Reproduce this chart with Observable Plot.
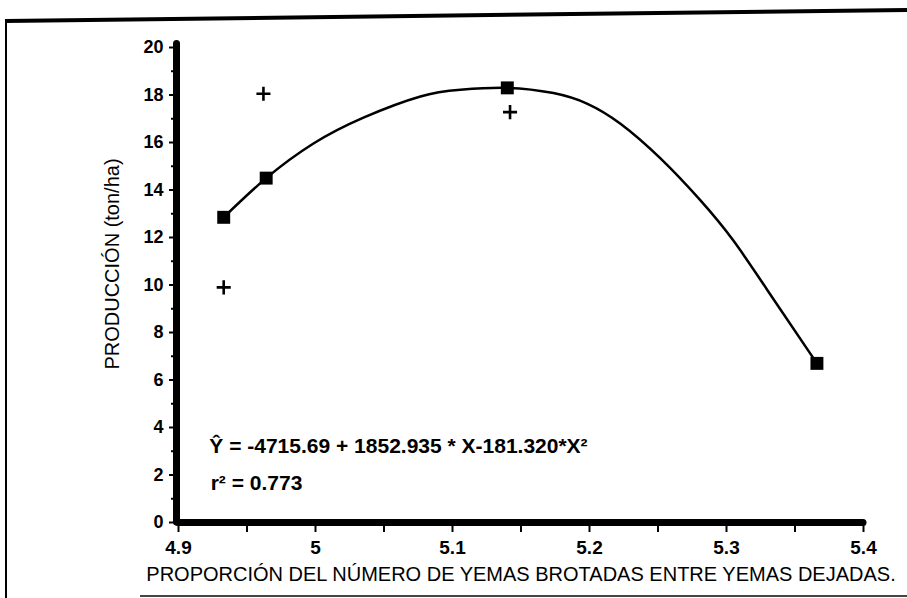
<!DOCTYPE html>
<html>
<head>
<meta charset="utf-8">
<script src="https://cdn.jsdelivr.net/npm/d3@7"></script>
<script src="https://cdn.jsdelivr.net/npm/@observablehq/plot@0.6"></script>
<style>
  body { margin: 0; background: #fff; }
  #wrap { position: relative; width: 907px; height: 598px; overflow: hidden; background: #fff; }
  #wrap svg { position: absolute; left: 0; top: 0; }
  .topline { position: absolute; left: 5px; top: 19px; width: 905px; height: 4px; background: #000; transform: rotate(-0.7deg); transform-origin: 0 50%; }
  .leftline { position: absolute; left: 5px; top: 20px; width: 2px; height: 578px; background: #000; }
  .bottomline { position: absolute; left: 140px; top: 595px; width: 767px; height: 2px; background: #444; }
</style>
</head>
<body>
<div id="wrap">
  <div class="topline"></div>
  <div class="leftline"></div>
  <div class="bottomline"></div>
</div>
<script>
// Fitted (predicted) values shown as squares
const squareX = [4.933, 4.964, 5.140, 5.366];
const squareY = [12.85, 14.5, 18.3, 6.7];
// Observed values shown as plus signs
const plusX = [4.933, 4.962, 5.142];
const plusY = [9.9, 18.05, 17.28];
// Regression curve
const curveX = [4.933, 4.964, 4.9985, 5.035, 5.0766, 5.1058, 5.140, 5.1737, 5.1985, 5.2226, 5.2518, 5.281, 5.305, 5.330, 5.366];
const curveY = [12.85, 14.5, 15.96, 17.05, 17.94, 18.22, 18.30, 18.08, 17.63, 16.79, 15.33, 13.56, 11.87, 9.77, 6.7];
// Ticks
const xTicks = [4.9, 5, 5.1, 5.2, 5.3, 5.4];
const xMinorTicks = [4.95, 5.05, 5.15, 5.25, 5.35];
const yTicks = [0, 2, 4, 6, 8, 10, 12, 14, 16, 18, 20];
const yMinorTicks = [1, 3, 5, 7, 9, 11, 13, 15, 17, 19];
// Texts
const xTitle = "PROPORCIÓN DEL NÚMERO DE YEMAS BROTADAS ENTRE YEMAS DEJADAS.";
const yTitle = "PRODUCCIÓN (ton/ha)";
const equation = "Ŷ = -4715.69 + 1852.935 * X-181.320*X²";
const r2Text = "r² = 0.773";

const squares = squareX.map((x, i) => ({x, y: squareY[i]}));
const pluses = plusX.map((x, i) => ({x, y: plusY[i]}));
const curve = curveX.map((x, i) => ({x, y: curveY[i]}));

const chart = Plot.plot({
  width: 907,
  height: 598,
  marginLeft: 178,
  marginRight: 44,
  marginTop: 47,
  marginBottom: 76,
  style: { fontFamily: "'Liberation Sans', Arial, sans-serif", background: "transparent", color: "#000" },
  x: { domain: [4.9, 5.4] },
  y: { domain: [0, 20] },
  marks: [
    Plot.axisY(yTicks, { tickSize: 9, tickPadding: 6, strokeWidth: 2, fontSize: 18, fontWeight: "bold", tickFormat: d => `${d}`, label: null }),
    Plot.axisY(yMinorTicks, { tickSize: 7, strokeWidth: 2, text: null, label: null }),
    Plot.axisX(xTicks, { tickSize: 10, tickPadding: 8, strokeWidth: 2, fontSize: 19, fontWeight: "bold", tickFormat: d => `${d}`, label: null }),
    Plot.axisX(xMinorTicks, { tickSize: 10, strokeWidth: 2, text: null, label: null }),
    Plot.ruleX([4.9], { y1: 0, y2: 20.15, dx: -2, stroke: "#000", strokeWidth: 7, strokeLinecap: "round" }),
    Plot.ruleY([0], { x1: 4.9, x2: 5.4, stroke: "#000", strokeWidth: 7, strokeLinecap: "round" }),
    Plot.line(curve, { x: "x", y: "y", curve: "natural", strokeWidth: 2.5, stroke: "#000" }),
    Plot.dot(squares, { x: "x", y: "y", symbol: "square", r: 7.3, fill: "#000", stroke: "none" }),
    Plot.dot(pluses, { x: "x", y: "y", symbol: "plus", r: 4.6, stroke: "#000", strokeWidth: 2.6 }),
    Plot.text([equation], { x: 4.9225, y: 3.2, text: d => d, textAnchor: "start", fontSize: 21, fontWeight: "bold" }),
    Plot.text([r2Text], { x: 4.9235, y: 1.65, text: d => d, textAnchor: "start", fontSize: 21, fontWeight: "bold" }),
    Plot.text([xTitle], { frameAnchor: "bottom", dy: 58, text: d => d, fontSize: 20 }),
    Plot.text([yTitle], { frameAnchor: "left", dx: -66, dy: -21, rotate: -90, textAnchor: "middle", text: d => d, fontSize: 20 })
  ]
});
document.getElementById("wrap").prepend(chart);
</script>
</body>
</html>
